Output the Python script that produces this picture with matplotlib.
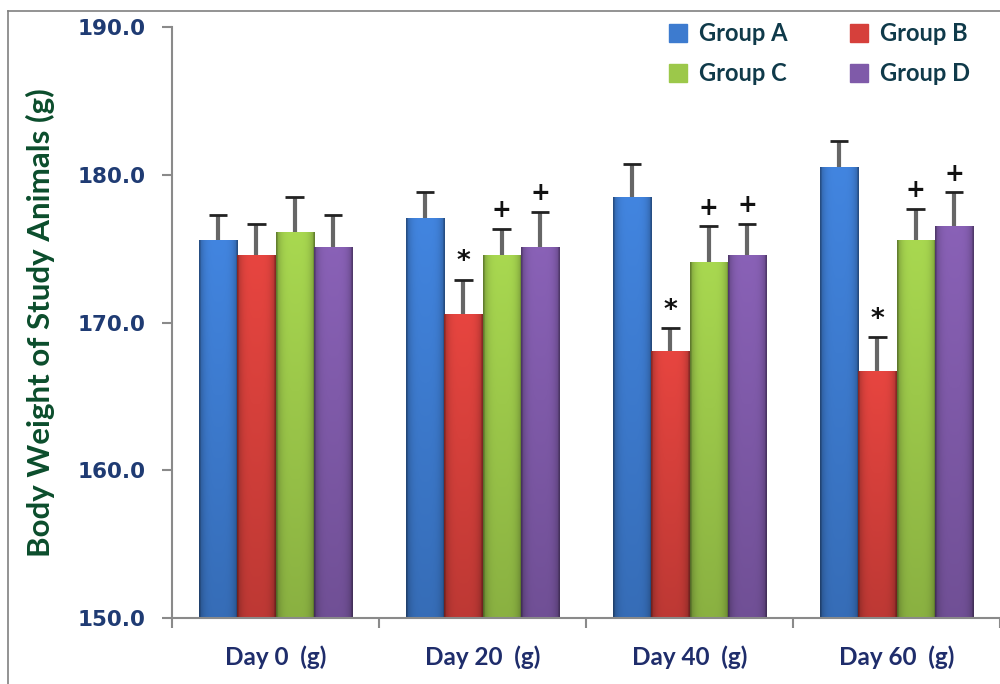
import numpy as np
import matplotlib.pyplot as plt
from matplotlib.lines import Line2D

days = ["Day 0  (g)", "Day 20  (g)", "Day 40  (g)", "Day 60  (g)"]
groups = ["Group A", "Group B", "Group C", "Group D"]

group_a = [175.6, 177.1, 178.5, 180.5]
group_b = [174.6, 170.6, 168.1, 166.7]
group_c = [176.1, 174.6, 174.1, 175.6]
group_d = [175.1, 175.1, 174.6, 176.5]

err_a = [1.7, 1.7, 2.2, 1.8]
err_b = [2.1, 2.3, 1.5, 2.3]
err_c = [2.4, 1.7, 2.4, 2.1]
err_d = [2.2, 2.4, 2.1, 2.3]

# significance marks over each bar
marks_a = ["", "", "", ""]
marks_b = ["", "*", "*", "*"]
marks_c = ["", "+", "+", "+"]
marks_d = ["", "+", "+", "+"]

colors = ["#3d7bcf", "#d6403b", "#9cc84a", "#7f5aa9"]


def shade(color, w=24, h=60):
    # horizontal bevel + slight darkening towards the bottom
    rgb = np.array(plt.matplotlib.colors.to_rgb(color))
    xs = np.linspace(-1, 1, w)
    horiz = 1.08 - 0.28 * xs ** 4
    horiz[0] *= 0.8
    horiz[-1] *= 0.8
    ys = np.linspace(0, 1, h)  # 0 = top
    vert = 1.0 - 0.18 * ys
    fac = vert[:, None] * horiz[None, :]
    img = np.clip(rgb[None, None, :] * fac[:, :, None], 0, 1)
    return img


fig = plt.figure(figsize=(10, 6.84), dpi=100)
ax = fig.add_axes([0.172, 0.0965, 0.828, 0.864])

x = np.arange(len(days))
width = 0.185
series = [group_a, group_b, group_c, group_d]
errs = [err_a, err_b, err_c, err_d]
marks = [marks_a, marks_b, marks_c, marks_d]

for i, (vals, e, m, col) in enumerate(zip(series, errs, marks, colors)):
    pos = x + (i - 1.5) * width
    bars = ax.bar(pos, np.array(vals) - 150, width, bottom=150, color=col,
                  edgecolor="none", label=groups[i], zorder=2)
    for b in bars:
        x0, y0 = b.get_x(), b.get_y()
        im = ax.imshow(shade(col), extent=[x0, x0 + b.get_width(), y0, y0 + b.get_height()],
                       aspect="auto", zorder=2.1, interpolation="bilinear")
        im.set_clip_path(b)
    ax.errorbar(pos, vals, yerr=[np.zeros(len(e)), e], fmt="none", ecolor="#666666",
                elinewidth=3, capsize=0, zorder=3)
    ax.errorbar(pos, np.array(vals) + np.array(e), xerr=0.045, fmt="none",
                ecolor="#222222", elinewidth=2, capsize=0, zorder=3.5)
    for p, v, ee, mk in zip(pos, vals, e, m):
        if mk:
            ax.annotate(mk, (p, v + ee), xytext=(0, 3 if mk == "*" else 5),
                        textcoords="offset points", ha="center", va="bottom",
                        fontsize=19 if mk == "*" else 17, fontweight="bold",
                        color="#111111", family="DejaVu Sans")

ax.set_xlim(-0.5, 3.5)
ax.set_ylim(150, 190)
ax.set_yticks([150, 160, 170, 180, 190])
ax.set_yticklabels([f"{v:.1f}" for v in [150, 160, 170, 180, 190]],
                   fontsize=15.5, fontweight="bold", color="#1f3b73")
ax.set_xticks(x)
ax.set_xticklabels(days, fontsize=17.5, fontweight="bold", color="#1f2d6b", family="Lato")
ax.set_xticks(np.arange(-0.5, 4, 1), minor=True)
ax.tick_params(axis="x", which="major", length=0, pad=20)
ax.tick_params(axis="x", which="minor", length=7, width=1.5, color="#8a8a8a")
ax.tick_params(axis="y", length=7, width=1.5, color="#8a8a8a", pad=12)

for s in ["top", "right"]:
    ax.spines[s].set_visible(False)
for s in ["left", "bottom"]:
    ax.spines[s].set_color("#8a8a8a")
    ax.spines[s].set_linewidth(1.5)

ax.set_ylabel("Body Weight of Study Animals (g)", fontsize=22.5, fontweight="bold",
              color="#0b4d2c", family="Lato", labelpad=16)

handles = [Line2D([], [], marker="s", linestyle="none", markersize=13,
                  markerfacecolor=c, markeredgecolor=c) for c in colors]
# legend fills column-wise, so reorder to get A B / C D rows
order = [0, 2, 1, 3]
leg = fig.legend([handles[k] for k in order], [groups[k] for k in order], ncol=2,
                 loc="upper left", bbox_to_anchor=(0.652, 0.985), borderpad=0,
                 frameon=False, handletextpad=0.3, columnspacing=2.4, handlelength=1.2,
                 prop={"family": "Lato", "weight": "bold", "size": 17}, labelspacing=0.72)
for t in leg.get_texts():
    t.set_color("#0f3a4a")

# page frame
fig.add_artist(Line2D([0.008, 0.008], [0.0, 0.984], color="#808080", lw=1.2))
fig.add_artist(Line2D([0.008, 1.0], [0.984, 0.984], color="#808080", lw=1.2))

fig.savefig("out.png", dpi=100)
